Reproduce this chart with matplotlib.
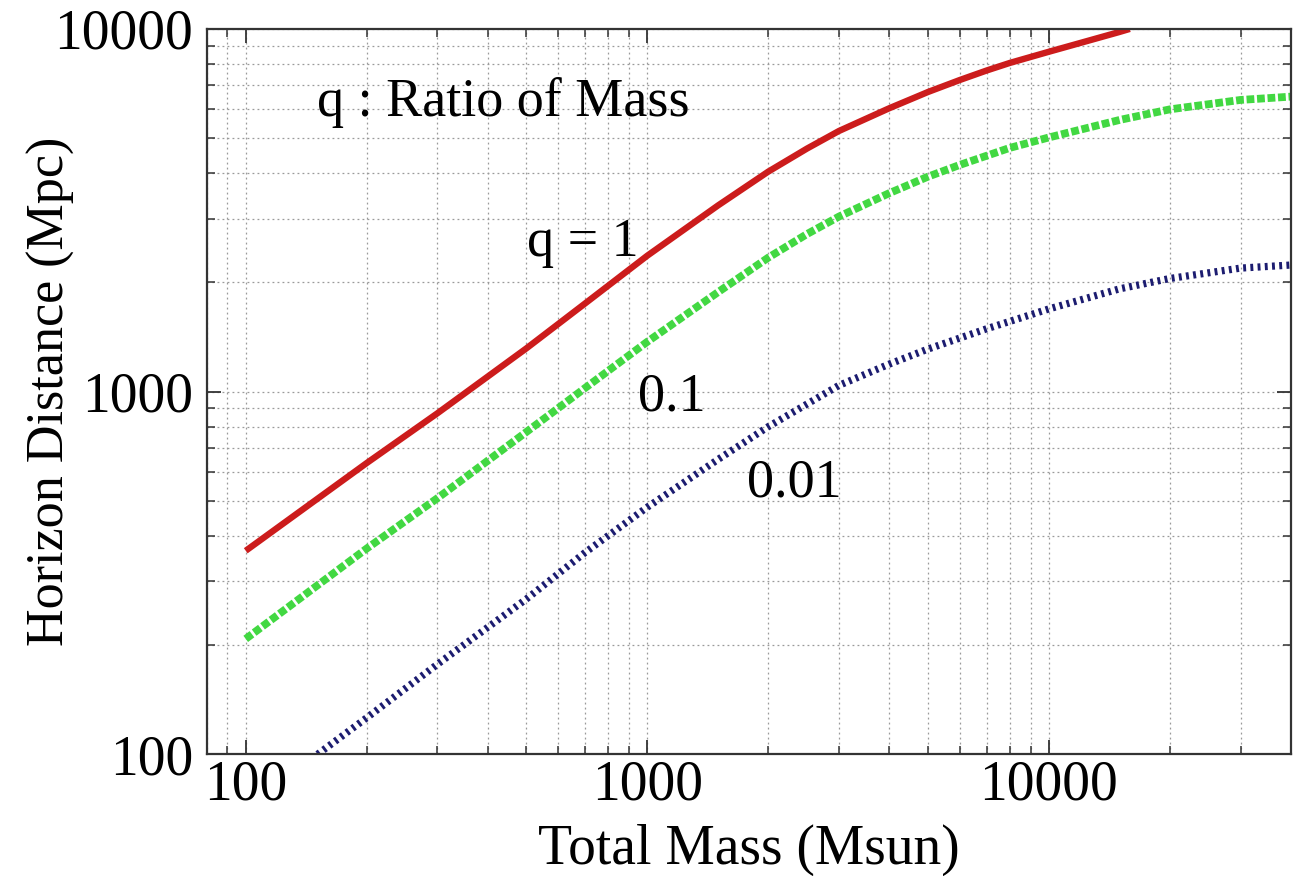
import numpy as np
import matplotlib.pyplot as plt
import matplotlib.ticker as ticker

plt.rcParams["font.family"] = ["Liberation Serif", "DejaVu Serif"]

# total mass (Msun) and horizon distance (Mpc) for each mass ratio q
mass_q1 = [100, 200, 300, 500, 700, 1000, 1500, 2000, 2500, 3000, 4000, 5000, 6000, 7000, 8000, 10000, 15000, 15900]
dist_q1 = [364, 635, 871, 1316, 1750, 2370, 3260, 4040, 4680, 5230, 6040, 6700, 7230, 7680, 8060, 8650, 9810, 10000]

mass_q01 = [100, 200, 300, 500, 700, 1000, 1500, 2000, 2500, 3000, 4000, 5000, 6000, 7000, 8000, 10000, 15000, 20000, 30000, 40000]
dist_q01 = [208, 369, 508, 774, 1023, 1372, 1880, 2340, 2720, 3037, 3523, 3914, 4217, 4470, 4700, 5020, 5610, 6000, 6370, 6505]

mass_q001 = [151, 200, 300, 500, 700, 1000, 1500, 2000, 3000, 4000, 5000, 7000, 10000, 15000, 20000, 30000, 40000]
dist_q001 = [100, 126, 177, 268, 360, 480, 650, 800, 1040, 1190, 1310, 1490, 1690, 1920, 2050, 2190, 2233]

fig = plt.figure(figsize=(13.09, 8.76), dpi=100)
ax = fig.add_axes([0.158, 0.139, 0.828, 0.828])

ax.plot(mass_q1, dist_q1, color="#cc1c1c", lw=4.6, solid_capstyle="butt",
        solid_joinstyle="round")
ax.plot(mass_q01, dist_q01, color="#42d842", lw=5.6, linestyle=(0, (1.0, 0.35)))
ax.plot(mass_q001, dist_q001, color="#1c1c70", lw=5.2, linestyle=(0, (0.4, 0.6)))

ax.set_xscale("log")
ax.set_yscale("log")
ax.set_xlim(80, 40000)
ax.set_ylim(100, 10000)

ax.xaxis.set_major_locator(ticker.FixedLocator([100, 1000, 10000]))
ax.yaxis.set_major_locator(ticker.FixedLocator([100, 1000, 10000]))
ax.xaxis.set_major_formatter(ticker.FuncFormatter(lambda v, p: f"{v:.0f}"))
ax.yaxis.set_major_formatter(ticker.FuncFormatter(lambda v, p: f"{v:.0f}"))
ax.xaxis.set_minor_locator(ticker.LogLocator(base=10, subs=np.arange(2, 10)))
ax.yaxis.set_minor_locator(ticker.LogLocator(base=10, subs=np.arange(2, 10)))
ax.xaxis.set_minor_formatter(ticker.NullFormatter())
ax.yaxis.set_minor_formatter(ticker.NullFormatter())

ax.tick_params(which="both", direction="in", top=True, right=True,
               labelsize=40, color="#333333")
ax.tick_params(axis="x", pad=4)
ax.tick_params(axis="y", pad=10)
ax.tick_params(which="major", length=10, width=1.3)
ax.tick_params(which="minor", length=6, width=1.1)
ax.grid(which="both", color="#9a9a9a", linestyle=(0, (1.5, 2.5)), lw=0.9)
for s in ax.spines.values():
    s.set_color("#333333")
    s.set_linewidth(1.6)

ax.set_xlabel("Total Mass (Msun)", fontsize=40)
ax.set_ylabel("Horizon Distance (Mpc)", fontsize=37.5)
ax.xaxis.set_label_coords(0.5, -0.096)
ax.yaxis.set_label_coords(-0.122, 0.5)

ax.text(437, 6250, "q : Ratio of Mass", fontsize=39, ha="center", va="center")
ax.text(690, 2570, "q = 1", fontsize=39, ha="center", va="center")
ax.text(1151, 965, "0.1", fontsize=39, ha="center", va="center")
ax.text(2329, 559, "0.01", fontsize=39, ha="center", va="center")

fig.savefig("out.png", dpi=100, facecolor="white")
